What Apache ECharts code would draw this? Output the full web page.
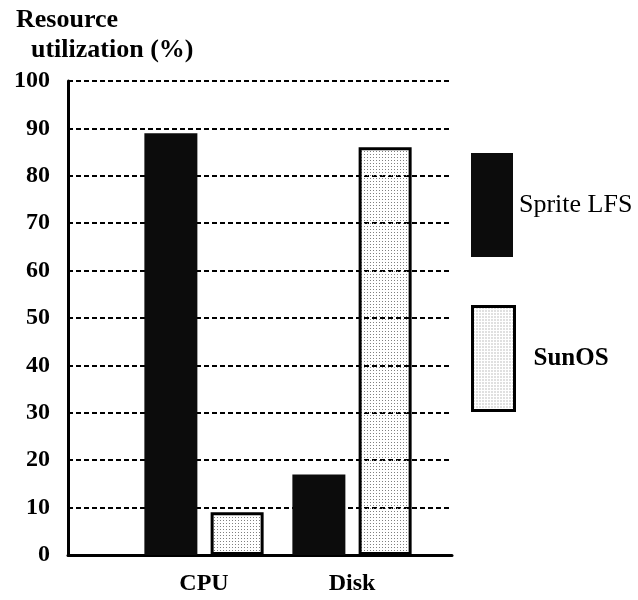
<!DOCTYPE html>
<html>
<head>
<meta charset="utf-8">
<script src="https://cdn.jsdelivr.net/npm/echarts@6/dist/echarts.min.js"></script>
<style>
  html, body { margin: 0; padding: 0; background: #fff; }
  #chart { width: 638px; height: 600px; }
</style>
</head>
<body>
<div id="chart"></div>
<script>
// data
var categories = ['CPU', 'Disk'];
var seriesNames = ['Sprite LFS', 'SunOS'];
var spriteValues = [89, 17];
var sunosValues = [9, 86];
var yMin = 0, yMax = 100, yStep = 10;

// dotted fill for the SunOS bars, transparent so grid lines show through
function dotPattern() {
    var c = document.createElement('canvas');
    c.width = 3;
    c.height = 3;
    var ctx = c.getContext('2d');
    ctx.fillStyle = '#808080';
    ctx.fillRect(1, 1, 1, 1);
    return c;
}

var serif = 'Liberation Serif';
var myChart = echarts.init(document.getElementById('chart'));
var option = {
    backgroundColor: '#fff',
    animation: false,
    title: [{
        text: 'Resource',
        left: 11, top: 2,
        textStyle: { fontFamily: serif, fontWeight: 'bold', fontSize: 26, color: '#000' }
    }, {
        text: 'utilization (%)',
        left: 26, top: 32,
        textStyle: { fontFamily: serif, fontWeight: 'bold', fontSize: 26, color: '#000' }
    }],
    legend: [{
        data: [seriesNames[0]],
        orient: 'vertical',
        left: 466, top: 148,
        icon: 'rect',
        itemWidth: 42, itemHeight: 104,
        selectedMode: false,
        textStyle: { fontFamily: serif, fontSize: 26, color: '#000', padding: [0, 0, 0, 1] }
    }, {
        data: [seriesNames[1]],
        orient: 'vertical',
        left: 466, top: 300,
        icon: 'rect',
        itemWidth: 42, itemHeight: 104,
        selectedMode: false,
        itemStyle: { borderColor: '#000', borderWidth: 3 },
        textStyle: { fontFamily: serif, fontWeight: 'bold', fontSize: 25, color: '#000', padding: [0, 0, 0, 14] }
    }],
    grid: [
        { left: 68, right: 186, top: 81, bottom: 45 },   // frame + grid lines
        { left: 130, right: 212, top: 81, bottom: 45 }   // bars
    ],
    xAxis: [{
        gridIndex: 0,
        type: 'value', min: 0, max: 1,
        axisLine: { show: true, lineStyle: { color: '#000', width: 3 } },
        axisTick: { show: false },
        axisLabel: { show: false },
        splitLine: { show: false }
    }, {
        gridIndex: 1,
        type: 'category',
        data: categories,
        axisLine: { show: false },
        axisTick: { show: false },
        axisLabel: { margin: 17, fontFamily: serif, fontWeight: 'bold', fontSize: 24, color: '#000' }
    }],
    yAxis: [{
        gridIndex: 0,
        type: 'value', min: yMin, max: yMax, interval: yStep,
        axisLine: { show: true, lineStyle: { color: '#000', width: 3 } },
        axisTick: { show: false },
        axisLabel: { margin: 18, fontFamily: serif, fontWeight: 'bold', fontSize: 24, color: '#000' },
        splitLine: { show: true, lineStyle: { color: '#000', width: 2, type: [5, 3] } }
    }, {
        gridIndex: 1,
        type: 'value', min: yMin, max: yMax, interval: yStep,
        show: false
    }],
    series: [{
        name: seriesNames[0],
        type: 'bar',
        xAxisIndex: 1, yAxisIndex: 1,
        data: spriteValues,
        barWidth: 53,
        barGap: '25%',
        itemStyle: { color: '#0c0c0c' }
    }, {
        name: seriesNames[1],
        type: 'bar',
        xAxisIndex: 1, yAxisIndex: 1,
        data: sunosValues,
        barWidth: 53,
        barGap: '25%',
        itemStyle: {
            color: { image: dotPattern(), repeat: 'repeat' },
            borderColor: '#000',
            borderWidth: 3
        }
    }]
};
myChart.setOption(option);
</script>
</body>
</html>
